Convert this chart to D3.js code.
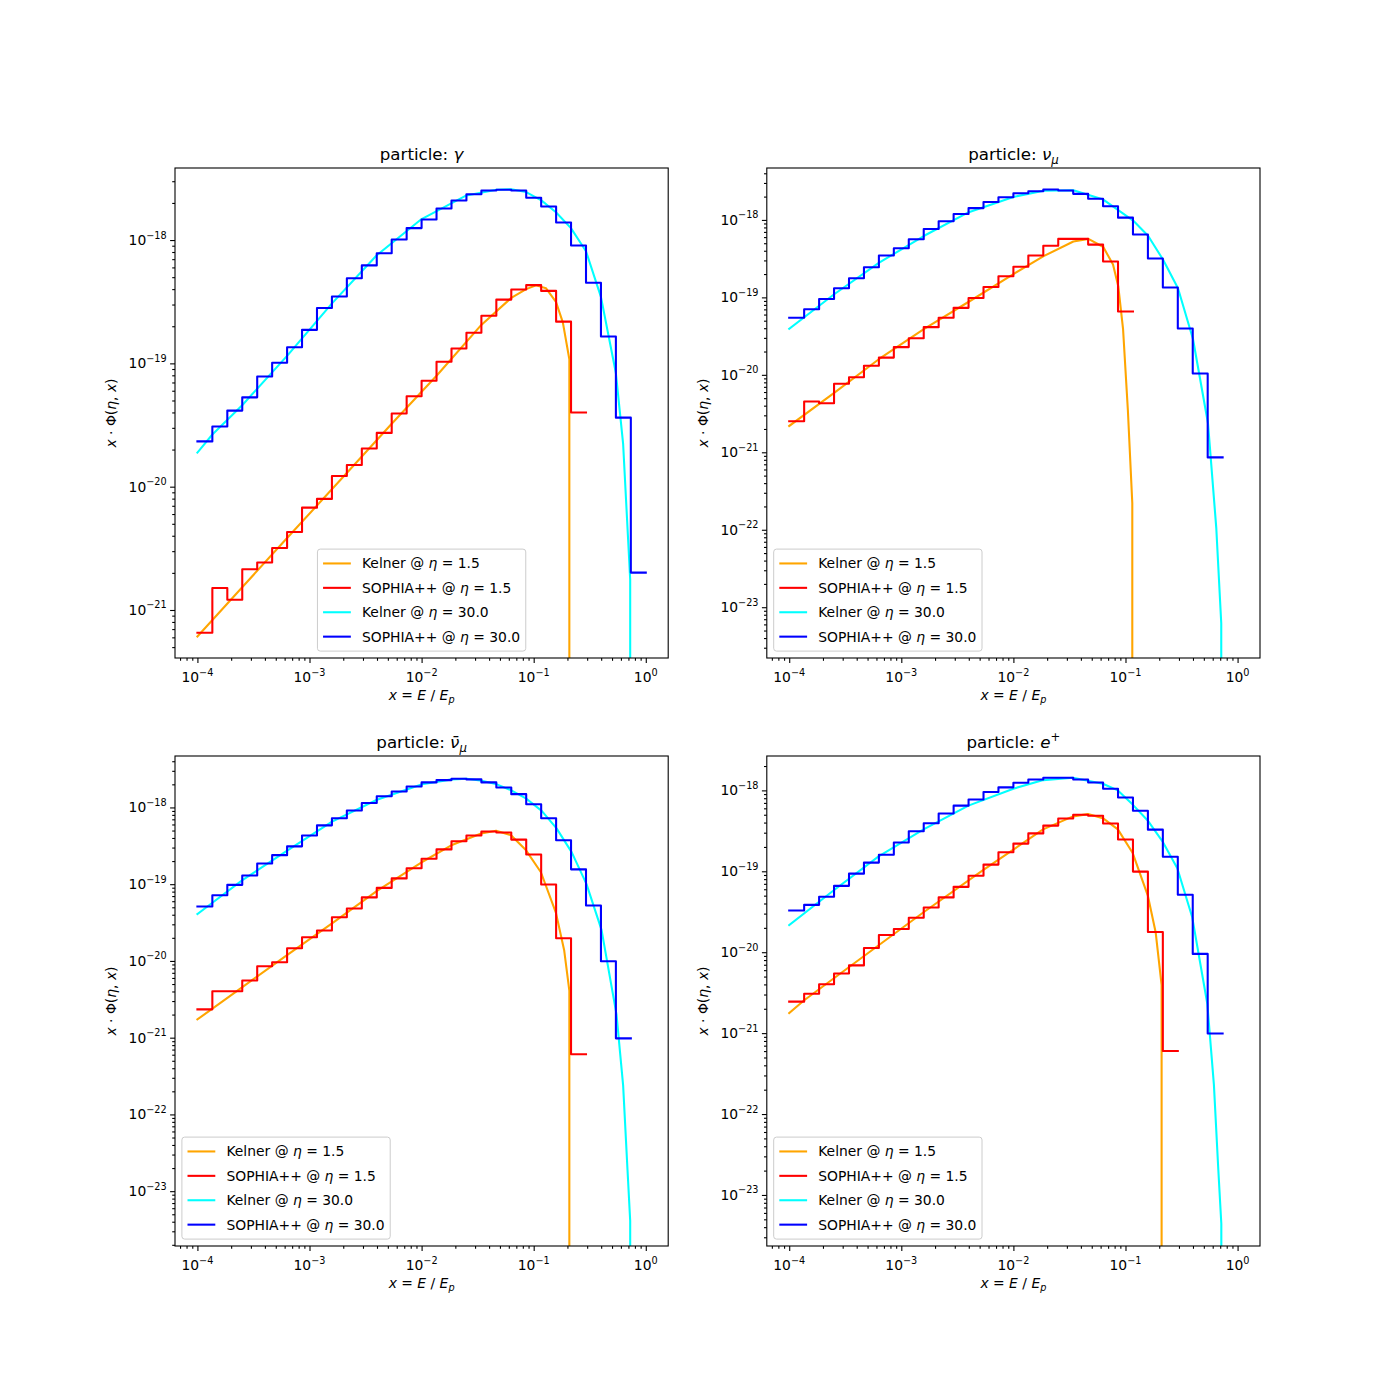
<!DOCTYPE html>
<html>
<head>
<meta charset="utf-8">
<script src="https://d3js.org/d3.v7.min.js"></script>
<style>
body { margin: 0; background: #fff; }
text { font-family: "DejaVu Sans", sans-serif; fill: #000; }
</style>
</head>
<body>
<script>
// SOPHIA++ histogram bin edges (30 log bins from 1e-4 to 1)
var edges = [1e-4, 1.359e-4, 1.848e-4, 2.512e-4, 3.415e-4, 4.642e-4, 6.310e-4, 8.577e-4,
  1.166e-3, 1.585e-3, 2.154e-3, 2.929e-3, 3.981e-3, 5.412e-3, 7.356e-3,
  1e-2, 1.359e-2, 1.848e-2, 2.512e-2, 3.415e-2, 4.642e-2, 6.310e-2, 8.577e-2,
  0.1166, 0.1585, 0.2154, 0.2929, 0.3981, 0.5412, 0.7356, 1.0];

// particle: gamma
var gammaKelner15X = [1e-4, 2.51e-4, 6.31e-4, 2.15e-3, 5.41e-3, 1.36e-2, 3.41e-2, 6.31e-2, 8.57e-2, 0.105, 0.129, 0.158, 0.182, 0.208, 0.215];
var gammaKelner15Y = [6.1e-22, 1.53e-21, 3.83e-21, 1.29e-20, 3.24e-20, 7.94e-20, 2.05e-19, 3.40e-19, 4.00e-19, 4.29e-19, 4.06e-19, 3.15e-19, 2.15e-19, 1.08e-19, 0];
var gammaKelner30X = [1e-4, 1.36e-4, 2.51e-4, 6.31e-4, 1.58e-3, 3.98e-3, 1e-2, 2.51e-2, 4.65e-2, 6.31e-2, 8.57e-2, 0.117, 0.158, 0.215, 0.293, 0.398, 0.541, 0.628, 0.726, 0.75];
var gammaKelner30Y = [1.89e-20, 2.65e-20, 4.58e-20, 1.15e-19, 3.05e-19, 7.53e-19, 1.48e-18, 2.30e-18, 2.56e-18, 2.58e-18, 2.45e-18, 2.10e-18, 1.68e-18, 1.25e-18, 8.11e-19, 3.46e-19, 8.35e-20, 2.22e-20, 1.77e-21, 0];
var gammaSophia15 = [6.53e-22, 1.51e-21, 1.21e-21, 2.14e-21, 2.43e-21, 3.18e-21, 4.29e-21, 6.76e-21, 7.96e-21, 1.22e-20, 1.50e-20, 2.04e-20, 2.73e-20, 3.92e-20, 5.41e-20, 7.23e-20, 1.03e-19, 1.32e-19, 1.77e-19, 2.43e-19, 3.29e-19, 3.97e-19, 4.31e-19, 3.87e-19, 2.18e-19, 3.99e-20];
var gammaSophia30 = [2.33e-20, 3.08e-20, 4.14e-20, 5.30e-20, 7.83e-20, 1.01e-19, 1.35e-19, 1.87e-19, 2.81e-19, 3.48e-19, 4.90e-19, 6.23e-19, 7.81e-19, 1.01e-18, 1.25e-18, 1.47e-18, 1.80e-18, 2.09e-18, 2.35e-18, 2.52e-18, 2.56e-18, 2.52e-18, 2.20e-18, 1.87e-18, 1.39e-18, 9.03e-19, 4.51e-19, 1.65e-19, 3.63e-20, 2.01e-21];

// particle: nu_mu
var numuKelner15X = [1e-4, 2.5e-4, 6.3e-4, 1.6e-3, 4e-3, 1e-2, 1.86e-2, 3.43e-2, 4.67e-2, 6.34e-2, 7.74e-2, 8.63e-2, 9.51e-2, 0.105, 0.115, 0.118];
var numuKelner15Y = [2.19e-21, 5.81e-21, 1.59e-20, 3.93e-20, 8.78e-20, 2.00e-19, 3.41e-19, 5.26e-19, 5.69e-19, 4.47e-19, 2.65e-19, 1.38e-19, 3.93e-20, 3.52e-21, 2.21e-22, 0];
var numuKelner30X = [1e-4, 2.5e-4, 6.3e-4, 1.6e-3, 4e-3, 1e-2, 1.86e-2, 3.43e-2, 6.34e-2, 0.117, 0.159, 0.216, 0.294, 0.4, 0.545, 0.646, 0.715, 0.73];
var numuKelner30Y = [3.93e-20, 1.09e-19, 2.79e-19, 6.24e-19, 1.26e-18, 1.98e-18, 2.38e-18, 2.42e-18, 1.83e-18, 9.80e-19, 6.24e-19, 3.08e-19, 1.31e-19, 2.90e-20, 2.35e-21, 1.04e-22, 6.2e-24, 0];
var numuSophia15 = [2.52e-21, 4.52e-21, 4.30e-21, 7.69e-21, 9.31e-21, 1.31e-20, 1.67e-20, 2.28e-20, 2.96e-20, 4.13e-20, 5.47e-20, 7.32e-20, 9.80e-20, 1.36e-19, 1.87e-19, 2.49e-19, 3.48e-19, 4.65e-19, 5.69e-19, 5.69e-19, 4.80e-19, 2.90e-19, 6.56e-20];
var numuSophia30 = [5.47e-20, 7.03e-20, 9.51e-20, 1.31e-19, 1.77e-19, 2.45e-19, 3.48e-19, 4.30e-19, 5.63e-19, 7.62e-19, 9.61e-19, 1.19e-18, 1.42e-18, 1.70e-18, 1.96e-18, 2.21e-18, 2.35e-18, 2.47e-18, 2.40e-18, 2.17e-18, 1.88e-18, 1.50e-18, 1.07e-18, 6.49e-19, 3.18e-19, 1.34e-19, 3.96e-20, 1.04e-20, 8.59e-22];

// particle: anti nu_mu
var antinumuKelner15X = [1e-4, 2.5e-4, 6.3e-4, 1.6e-3, 4e-3, 1e-2, 1.84e-2, 3.4e-2, 4.62e-2, 6.28e-2, 8.55e-2, 0.116, 0.158, 0.187, 0.208, 0.215];
var antinumuKelner15Y = [1.73e-21, 4.53e-21, 1.19e-20, 3.11e-20, 8.16e-20, 1.93e-19, 3.21e-19, 4.58e-19, 4.97e-19, 4.35e-19, 2.76e-19, 1.43e-19, 4.23e-20, 1.38e-20, 4.10e-21, 0];
var antinumuKelner30X = [1e-4, 1.36e-4, 2.52e-4, 6.32e-4, 1.59e-3, 4.0e-3, 1.01e-2, 1.86e-2, 2.54e-2, 3.44e-2, 4.69e-2, 6.37e-2, 8.67e-2, 0.118, 0.160, 0.218, 0.296, 0.403, 0.548, 0.628, 0.687, 0.726, 0.74];
var antinumuKelner30Y = [4.09e-20, 5.73e-20, 1.13e-19, 2.73e-19, 6.53e-19, 1.26e-18, 2.0e-18, 2.32e-18, 2.37e-18, 2.23e-18, 2.0e-18, 1.66e-18, 1.29e-18, 9.03e-19, 5.33e-19, 2.62e-19, 1.0e-19, 2.54e-20, 2.01e-21, 2.39e-22, 1.9e-23, 4.1e-24, 0];
var antinumuSophia15 = [2.34e-21, 4.02e-21, 4.02e-21, 5.55e-21, 8.51e-21, 9.60e-21, 1.46e-20, 2.03e-20, 2.49e-20, 3.70e-20, 4.82e-20, 6.73e-20, 8.95e-20, 1.19e-19, 1.61e-19, 2.14e-19, 2.84e-19, 3.62e-19, 4.31e-19, 4.86e-19, 4.72e-19, 3.81e-19, 2.44e-19, 9.91e-20, 1.97e-20, 6.08e-22];
var antinumuSophia30 = [5.12e-20, 7.16e-20, 9.80e-20, 1.30e-19, 1.86e-19, 2.39e-19, 3.11e-19, 4.31e-19, 5.84e-19, 7.23e-19, 9.13e-19, 1.14e-18, 1.40e-18, 1.61e-18, 1.87e-18, 2.12e-18, 2.27e-18, 2.37e-18, 2.32e-18, 2.12e-18, 1.82e-18, 1.49e-18, 1.10e-18, 7.23e-19, 3.74e-19, 1.56e-19, 5.27e-20, 9.91e-21, 9.8e-22];

// particle: positron
var positronKelner15X = [1e-4, 1.36e-4, 4.62e-4, 1.58e-3, 5.4e-3, 1.84e-2, 3.40e-2, 4.62e-2, 6.28e-2, 8.55e-2, 0.116, 0.158, 0.186, 0.210, 0.215];
var positronKelner15Y = [1.77e-21, 2.55e-21, 8.91e-21, 3.12e-20, 1.04e-19, 3.30e-19, 4.77e-19, 5.09e-19, 4.54e-19, 3.30e-19, 1.68e-19, 5.05e-20, 1.75e-20, 3.93e-21, 0];
var positronKelner30X = [1e-4, 2.5e-4, 6.28e-4, 1.58e-3, 3.97e-3, 1e-2, 1.85e-2, 3.40e-2, 6.28e-2, 8.55e-2, 0.116, 0.157, 0.213, 0.290, 0.394, 0.537, 0.615, 0.673, 0.716, 0.74];
var positronKelner30Y = [2.16e-20, 5.83e-20, 1.53e-19, 3.30e-19, 6.48e-19, 1.05e-18, 1.34e-18, 1.43e-18, 1.21e-18, 1.00e-18, 6.67e-19, 4.28e-19, 2.36e-19, 1.09e-19, 2.70e-20, 2.31e-21, 2.29e-22, 2.06e-23, 4.4e-24, 0];
var positronSophia15 = [2.45e-21, 3.06e-21, 4.01e-21, 5.45e-21, 6.87e-21, 1.13e-20, 1.63e-20, 1.94e-20, 2.67e-20, 3.57e-20, 4.76e-20, 6.42e-20, 8.83e-20, 1.21e-19, 1.72e-19, 2.20e-19, 2.94e-19, 3.67e-19, 4.50e-19, 5.00e-19, 4.86e-19, 3.89e-19, 2.47e-19, 9.91e-20, 1.78e-20, 6.0e-22];
var positronSophia30 = [3.27e-20, 3.85e-20, 4.85e-20, 6.61e-20, 9.35e-20, 1.28e-19, 1.60e-19, 2.27e-19, 3.12e-19, 3.93e-19, 5.19e-19, 6.48e-19, 7.71e-19, 9.53e-19, 1.09e-18, 1.24e-18, 1.36e-18, 1.43e-18, 1.43e-18, 1.36e-18, 1.25e-18, 1.05e-18, 8.17e-19, 5.61e-19, 3.27e-19, 1.51e-19, 5.14e-20, 9.53e-21, 9.9e-22];

// panel titles and axis limits
var particleSymbol = ["\u03b3", "\u03bd", "\u03bd\u0304", "e"];
var particleSub = ["", "\u03bc", "\u03bc", ""];
var particleSup = ["", "", "", "+"];
var xLimits = [6.31e-5, 1.585];
var yLimits = [[4.08e-22, 3.84e-18], [2.21e-24, 4.68e-18], [1.93e-24, 4.68e-18], [2.34e-24, 2.66e-18]];
var legendLoc = ["lower center", "lower left", "lower left", "lower left"];

// legend entries (draw order)
var seriesNames = ["Kelner", "SOPHIA++", "Kelner", "SOPHIA++"];
var seriesEta = ["1.5", "1.5", "30.0", "30.0"];
var seriesColors = ["orange", "red", "cyan", "blue"];

function zip(a, b) { return a.map(function(v, i) { return [v, b[i]]; }); }

var panels = [
  { kelner15: zip(gammaKelner15X, gammaKelner15Y), kelner30: zip(gammaKelner30X, gammaKelner30Y), sophia15: gammaSophia15, sophia30: gammaSophia30 },
  { kelner15: zip(numuKelner15X, numuKelner15Y), kelner30: zip(numuKelner30X, numuKelner30Y), sophia15: numuSophia15, sophia30: numuSophia30 },
  { kelner15: zip(antinumuKelner15X, antinumuKelner15Y), kelner30: zip(antinumuKelner30X, antinumuKelner30Y), sophia15: antinumuSophia15, sophia30: antinumuSophia30 },
  { kelner15: zip(positronKelner15X, positronKelner15Y), kelner30: zip(positronKelner30X, positronKelner30Y), sophia15: positronSophia15, sophia30: positronSophia30 }
];

var width = 1400,
    height = 1400,
    axW = 493.2,
    axH = 490,
    fs = 13.89,
    lw = 2.08;
var lefts = [175, 766.8],
    tops = [168, 756];

var svg = d3.select("body").append("svg")
    .attr("width", width)
    .attr("height", height);

svg.append("rect").attr("width", width).attr("height", height).attr("fill", "#fff");

function supText(v) {
  var e = Math.round(Math.log10(v));
  return e < 0 ? "\u2212" + (-e) : "" + e;
}

function decadeTicks(lo, hi) {
  var major = [], minor = [];
  for (var e = Math.floor(Math.log10(lo)) - 1; e <= Math.ceil(Math.log10(hi)); e++) {
    var b = Math.pow(10, e);
    if (b >= lo * 0.9999 && b <= hi * 1.0001) major.push(b);
    for (var k = 2; k <= 9; k++) {
      var m = k * b;
      if (m >= lo && m <= hi) minor.push(m);
    }
  }
  return { major: major, minor: minor };
}

panels.forEach(function(p, i) {
  var gx = lefts[i % 2], gy = tops[Math.floor(i / 2)];
  var g = svg.append("g").attr("transform", "translate(" + gx + "," + gy + ")");

  var x = d3.scaleLog().domain(xLimits).range([0, axW]);
  var y = d3.scaleLog().domain(yLimits[i]).range([axH, 0]);

  g.append("clipPath").attr("id", "clip" + i)
    .append("rect").attr("width", axW).attr("height", axH);

  var plot = g.append("g").attr("clip-path", "url(#clip" + i + ")");

  var kelnerLine = d3.line()
      .x(function(d) { return x(d[0]); })
      .y(function(d) { return d[1] > 0 ? y(d[1]) : axH + 50000; });

  var stepLine = d3.line()
      .curve(d3.curveStepAfter)
      .x(function(d) { return x(d[0]); })
      .y(function(d) { return y(d[1]); });

  function stepPoints(vals) {
    var pts = vals.map(function(v, k) { return [edges[k], v]; });
    pts.push([edges[vals.length], vals[vals.length - 1]]);
    return pts;
  }

  var series = [
    { d: kelnerLine(p.kelner15) },
    { d: stepLine(stepPoints(p.sophia15)) },
    { d: kelnerLine(p.kelner30) },
    { d: stepLine(stepPoints(p.sophia30)) }
  ];

  plot.selectAll(".series")
    .data(series)
    .enter().append("path")
      .attr("class", "series")
      .attr("d", function(d) { return d.d; })
      .attr("fill", "none")
      .attr("stroke", function(d, k) { return seriesColors[k]; })
      .attr("stroke-width", lw)
      .attr("stroke-linejoin", "round")
      .attr("stroke-linecap", "square");

  // ticks
  var xt = decadeTicks(xLimits[0], xLimits[1]);
  var yt = decadeTicks(yLimits[i][0], yLimits[i][1]);

  var xMajor = g.append("g").attr("transform", "translate(0," + axH + ")")
    .call(d3.axisBottom(x).tickValues(xt.major).tickSize(4.9).tickFormat(""));
  var xMinor = g.append("g").attr("transform", "translate(0," + axH + ")")
    .call(d3.axisBottom(x).tickValues(xt.minor).tickSize(2.8).tickFormat(""));
  var yMajor = g.append("g")
    .call(d3.axisLeft(y).tickValues(yt.major).tickSize(4.9).tickFormat(""));
  var yMinor = g.append("g")
    .call(d3.axisLeft(y).tickValues(yt.minor).tickSize(2.8).tickFormat(""));
  [xMajor, xMinor, yMajor, yMinor].forEach(function(a) {
    a.select(".domain").remove();
    a.selectAll("line").attr("stroke", "#000").attr("stroke-width", 1.1);
  });

  xt.major.forEach(function(v) {
    var t = g.append("text")
      .attr("x", x(v)).attr("y", axH + 24)
      .attr("text-anchor", "middle")
      .style("font-size", fs + "px");
    t.append("tspan").text("10");
    t.append("tspan").attr("dy", -6.5).style("font-size", "9.7px").text(supText(v));
  });

  yt.major.forEach(function(v) {
    var t = g.append("text")
      .attr("x", -8.3).attr("y", y(v) + 5)
      .attr("text-anchor", "end")
      .style("font-size", fs + "px");
    t.append("tspan").text("10");
    t.append("tspan").attr("dy", -6.5).style("font-size", "9.7px").text(supText(v));
  });

  // spines
  g.append("rect")
    .attr("width", axW).attr("height", axH)
    .attr("fill", "none").attr("stroke", "#000").attr("stroke-width", 1.1);

  // title
  var title = g.append("text")
    .attr("x", axW / 2).attr("y", -8)
    .attr("text-anchor", "middle")
    .style("font-size", "16.67px");
  title.append("tspan").text("particle: ");
  title.append("tspan").style("font-style", "italic").text(particleSymbol[i]);
  if (particleSub[i]) title.append("tspan").attr("dy", 3.5).style("font-size", "11.7px").style("font-style", "italic").text(particleSub[i]);
  if (particleSup[i]) title.append("tspan").attr("dy", -7).style("font-size", "11.7px").text(particleSup[i]);

  // x label
  var xl = g.append("text")
    .attr("x", axW / 2).attr("y", axH + 42)
    .attr("text-anchor", "middle")
    .style("font-size", fs + "px");
  xl.append("tspan").style("font-style", "italic").text("x");
  xl.append("tspan").text(" = ");
  xl.append("tspan").style("font-style", "italic").text("E");
  xl.append("tspan").text(" / ");
  xl.append("tspan").style("font-style", "italic").text("E");
  xl.append("tspan").attr("dy", 3).style("font-size", "9.7px").style("font-style", "italic").text("p");

  // y label
  var yl = g.append("text")
    .attr("transform", "translate(-59," + (axH / 2) + ") rotate(-90)")
    .attr("text-anchor", "middle")
    .style("font-size", fs + "px");
  yl.append("tspan").style("font-style", "italic").text("x");
  yl.append("tspan").text(" \u00b7 \u03a6(");
  yl.append("tspan").style("font-style", "italic").text("\u03b7");
  yl.append("tspan").text(", ");
  yl.append("tspan").style("font-style", "italic").text("x");
  yl.append("tspan").text(")");

  // legend
  var leg = g.append("g");
  var frame = leg.append("rect");
  var rowH = 24.4, pad = 5.6, handleLen = 27.8, textPad = 11.1;
  var maxW = 0;
  seriesNames.forEach(function(name, k) {
    var cy = pad + 8.75 + k * rowH;
    leg.append("line")
      .attr("x1", pad).attr("x2", pad + handleLen)
      .attr("y1", cy).attr("y2", cy)
      .attr("stroke", seriesColors[k]).attr("stroke-width", lw);
    var t = leg.append("text")
      .attr("x", pad + handleLen + textPad).attr("y", cy + 5)
      .style("font-size", fs + "px");
    t.append("tspan").text(name + " @ ");
    t.append("tspan").style("font-style", "italic").text("\u03b7");
    t.append("tspan").text(" = " + seriesEta[k]);
    maxW = Math.max(maxW, t.node().getComputedTextLength());
  });
  var boxW = pad + handleLen + textPad + maxW + pad,
      boxH = 102;
  frame.attr("width", boxW).attr("height", boxH)
    .attr("rx", 2.8).attr("ry", 2.8)
    .attr("fill", "#fff").attr("fill-opacity", 0.8)
    .attr("stroke", "#cccccc").attr("stroke-width", 1);
  var lx = legendLoc[i] === "lower center" ? (axW - boxW) / 2 : 6.9;
  leg.attr("transform", "translate(" + lx + "," + (axH - 6.9 - boxH) + ")");
});
</script>
</body>
</html>
